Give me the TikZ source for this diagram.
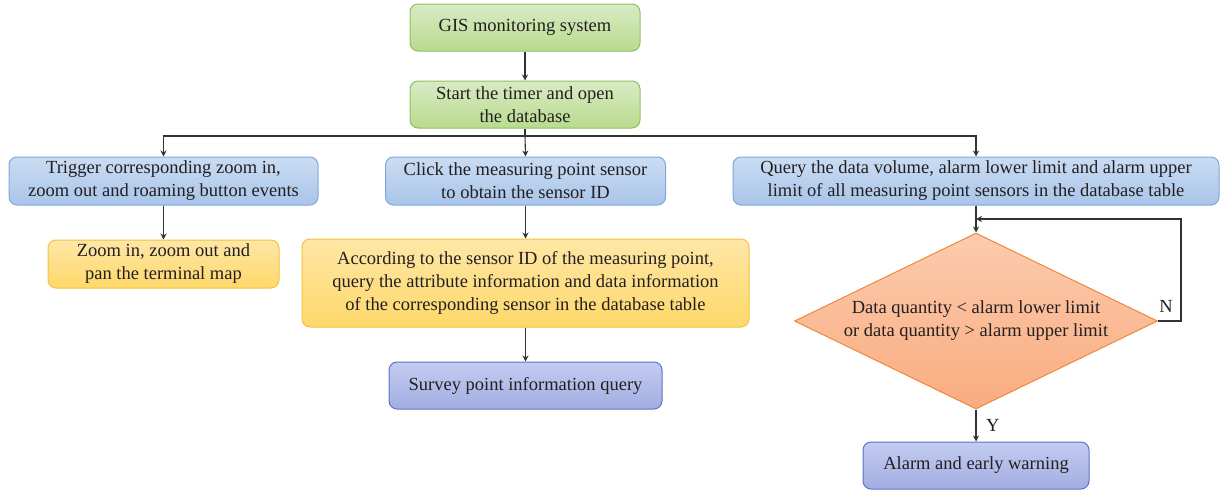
\documentclass[tikz,border=0pt]{standalone}
\usepackage{fontspec}
\setmainfont{Liberation Serif}
\usetikzlibrary{arrows.meta,shapes.geometric}
\definecolor{txt}{HTML}{231F20}
\definecolor{ln}{HTML}{333333}
\definecolor{gTop}{HTML}{D8EBC5}
\definecolor{gBot}{HTML}{B9DB8E}
\definecolor{gLine}{HTML}{8DC05A}
\definecolor{bTop}{HTML}{CADCF2}
\definecolor{bBot}{HTML}{A9C5EA}
\definecolor{bLine}{HTML}{7FA7D8}
\definecolor{yTop}{HTML}{FEE7A6}
\definecolor{yBot}{HTML}{FED86A}
\definecolor{yLine}{HTML}{F5C13E}
\definecolor{pTop}{HTML}{C4CCF0}
\definecolor{pBot}{HTML}{A2AEE2}
\definecolor{pLine}{HTML}{5F72C4}
\definecolor{dTop}{HTML}{FCCBAE}
\definecolor{dBot}{HTML}{F9AC7F}
\definecolor{dLine}{HTML}{F0883E}
\tikzset{
  x=1pt, y=-1pt,
  every node/.style={font=\fontsize{18.5}{23}\selectfont, text=txt, align=center},
  box/.style={rounded corners=8pt, line width=1pt, inner sep=0pt},
  greenbox/.style={box, top color=gTop, bottom color=gBot, draw=gLine},
  bluebox/.style={box, top color=bTop, bottom color=bBot, draw=bLine},
  yellowbox/.style={box, top color=yTop, bottom color=yBot, draw=yLine},
  purplebox/.style={box, top color=pTop, bottom color=pBot, draw=pLine},
  arr/.style={draw=ln, line width=1.1pt, -{Stealth[length=6pt,width=6pt]}},
  conn/.style={draw=ln, line width=1.1pt},
}
\begin{document}
\begin{tikzpicture}
\useasboundingbox (0,0) rectangle (1220,490);

% main chain
\node[greenbox, minimum width=230pt, minimum height=47pt] (gis) at (525,27.5) {GIS monitoring system};
\node[greenbox, minimum width=230pt, minimum height=47pt] (timer) at (525,104.5) {Start the timer and open\\the database};

% three branches
\node[bluebox, minimum width=309pt, minimum height=48pt] (trig) at (163.5,181) {Trigger corresponding zoom in,\\zoom out and roaming button events};
\node[bluebox, minimum width=280pt, minimum height=48pt] (click) at (525.5,181) {Click the measuring point sensor\\to obtain the sensor ID};
\node[bluebox, minimum width=486pt, minimum height=48pt] (query) at (976,181) {Query the data volume, alarm lower limit and alarm upper\\limit of all measuring point sensors in the database table};

\node[yellowbox, minimum width=231pt, minimum height=48pt] (zoom) at (163.5,264) {Zoom in, zoom out and\\pan the terminal map};
\node[yellowbox, minimum width=447pt, minimum height=88pt] (acc) at (525.5,283) {According to the sensor ID of the measuring point,\\query the attribute information and data information\\of the corresponding sensor in the database table};
\node[purplebox, minimum width=273pt, minimum height=47pt] (survey) at (525.5,385.5) {Survey point information query};

% decision
\node[diamond, top color=dTop, bottom color=dBot, draw=dLine, line width=1pt,
      minimum width=363pt, minimum height=176pt, inner sep=0pt,
      label={[align=center]center:Data quantity {<} alarm lower limit\\or data quantity {>} alarm upper limit}] (dec) at (976,321) {};
\node[purplebox, minimum width=226pt, minimum height=47pt] (alarm) at (976,465.5) {Alarm and early warning};

% connectors
\draw[arr] (gis) -- (timer);
\draw[conn] (timer.south) -- (525,136) coordinate (split);
\draw[arr] (split) -| (trig.north);
\draw[arr] (split) -| (query.north);
\draw[arr] (split) -- (click.north);
\draw[arr] (trig) -- (zoom);
\draw[arr] (click) -- (acc);
\draw[arr] (acc) -- (survey);
\draw[arr] (query) -- (dec.north);
\coordinate (back) at (976,219);
\draw[arr] (dec.east) -- (1181,321) |- (back);
\node[anchor=south] at (1166,316) {N};
\draw[arr, line width=1.6pt] (dec.south) -- (alarm.north) node[midway, right=6pt] {Y};
\end{tikzpicture}
\end{document}
